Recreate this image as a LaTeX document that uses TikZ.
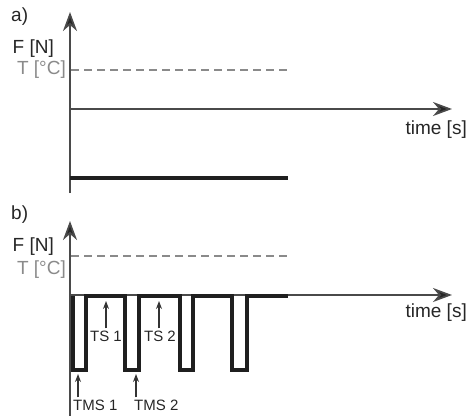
\documentclass[tikz,border=0pt]{standalone}
\usepackage{fontspec}
\setmainfont{Liberation Sans}
\usetikzlibrary{arrows.meta}
\definecolor{axisgray}{HTML}{4A4A4A}
\definecolor{tgray}{HTML}{8A8A8A}
\begin{document}
\begin{tikzpicture}[x=1pt,y=-1pt,
  axis/.style={draw=axisgray,line width=1.7pt,-{Stealth[length=19pt,width=14pt,inset=6pt,fill=black!85]}},
  dashline/.style={draw=tgray,line width=2pt,dash pattern=on 8pt off 5pt},
  thickline/.style={draw=black!88,line width=3.2pt},
  biglabel/.style={font=\fontsize{19}{19}\selectfont,inner sep=0pt,text=black!85},
  smalllabel/.style={font=\fontsize{15}{15}\selectfont,inner sep=0pt,text=black!85},
  marker/.style={draw=black!80,line width=1.2pt,-{Stealth[length=8pt,width=6pt]}}
]
\useasboundingbox (0,0) rectangle (468,415);
% ---------- panel a ----------
\node[biglabel,anchor=west] (la) at (11,17) {a)};
\coordinate (ay0) at (70,193);
\coordinate (ay1) at (70,12);
\draw[axis] (ay0) -- (ay1);
\coordinate (ax0) at (70,109);
\coordinate (ax1) at (452,109);
\draw[axis] (ax0) -- (ax1);
\node[biglabel,anchor=east] (aF) at (54,49) {F [N]};
\node[biglabel,anchor=east,text=tgray] (aT) at (66,70) {T [°C]};
\node[biglabel,anchor=east] (atime) at (467,130) {time [s]};
\coordinate (ad0) at (71,70);
\coordinate (ad1) at (288,70);
\draw[dashline] (ad0) -- (ad1);
\coordinate (af0) at (70,178);
\coordinate (af1) at (288,178);
\draw[thickline] (af0) -- (af1);
% ---------- panel b ----------
\node[biglabel,anchor=west] (lb) at (11,215) {b)};
\coordinate (by0) at (70,416);
\coordinate (by1) at (70,221);
\draw[axis] (by0) -- (by1);
\coordinate (bx0) at (70,295);
\coordinate (bx1) at (452,295);
\draw[axis] (bx0) -- (bx1);
\node[biglabel,anchor=east] (bF) at (54,247) {F [N]};
\node[biglabel,anchor=east,text=tgray] (bT) at (66,270) {T [°C]};
\node[biglabel,anchor=east] (btime) at (467,313) {time [s]};
\coordinate (bd0) at (71,256);
\coordinate (bd1) at (288,256);
\draw[dashline] (bd0) -- (bd1);
% pulse train
\draw[thickline,line join=miter]
  (73,296) -- (73,370) -- (86,370) -- (86,296) -- (125,296) -- (125,370) -- (139,370) -- (139,296)
  -- (180,296) -- (180,370) -- (193,370) -- (193,296) -- (232,296) -- (232,370) -- (247,370) -- (247,296)
  -- (288,296);
% labels
\node[smalllabel] (ts1) at (106,336) {TS 1};
\node[smalllabel] (ts2) at (160,336) {TS 2};
\node[smalllabel,anchor=west] (tms1) at (73,405) {TMS 1};
\node[smalllabel,anchor=west] (tms2) at (134,405) {TMS 2};
\coordinate (ts1t) at (106,301);
\coordinate (ts2t) at (159,301);
\coordinate (tms1t) at (78,374);
\coordinate (tms2t) at (136,374);
\draw[marker] (ts1.north -| ts1t) ++(0,-2) -- (ts1t);
\draw[marker] (ts2.north -| ts2t) ++(0,-2) -- (ts2t);
\draw[marker] (tms1.north -| tms1t) ++(0,-2) -- (tms1t);
\draw[marker] (tms2.north -| tms2t) ++(0,-2) -- (tms2t);
\end{tikzpicture}
\end{document}
